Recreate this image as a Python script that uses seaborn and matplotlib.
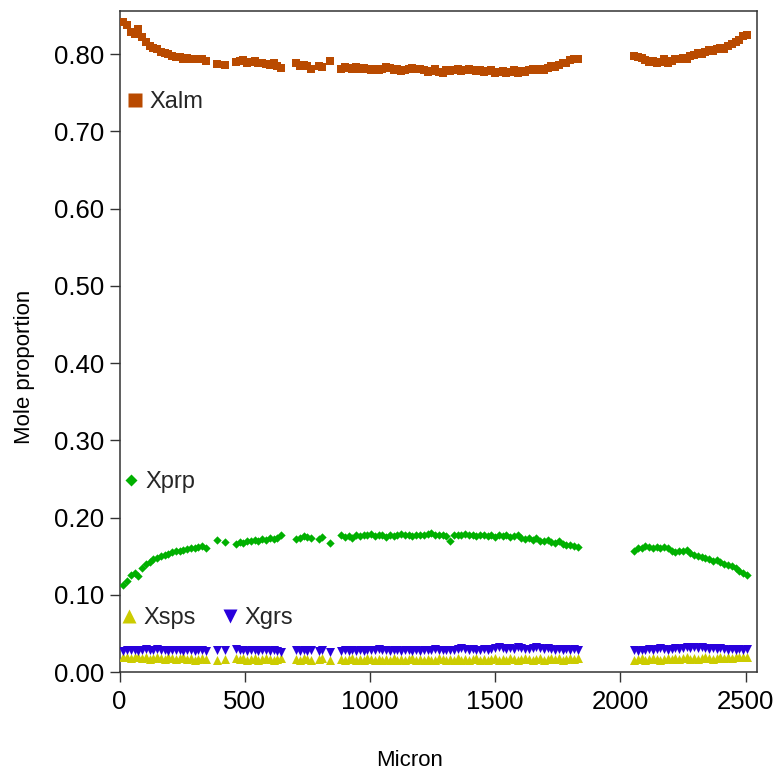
import matplotlib
matplotlib.use("Agg")
import matplotlib.pyplot as plt
from matplotlib.lines import Line2D
from matplotlib.legend import Legend
from matplotlib.ticker import FormatStrFormatter
import pandas as pd
import seaborn as sns

# Garnet rim-to-rim traverse: distance along profile (micron)
micron = [
    15, 30, 45, 60, 75, 90, 105, 120, 135, 150, 165, 180, 195, 210, 225, 240, 255, 270, 285, 300, 315, 330, 345,
    390, 420,
    465, 480, 495, 510, 525, 540, 555, 570, 585, 600, 615, 630, 645,
    705, 720, 735, 750, 765,
    795, 810,
    840,
    885, 900, 915, 930, 945, 960, 975, 990,
    1005, 1020, 1035, 1050, 1065, 1080, 1095,
    1110, 1125, 1140, 1155, 1170, 1185, 1200,
    1215, 1230, 1245, 1260, 1275, 1290, 1305,
    1320, 1335, 1350, 1365, 1380, 1395, 1410,
    1425, 1440, 1455, 1470, 1485, 1500, 1515,
    1530, 1545, 1560, 1575, 1590, 1605, 1620,
    1635, 1650, 1665, 1680, 1695, 1710, 1725,
    1740, 1755, 1770, 1785, 1800, 1815, 1830,
    2055, 2070, 2085, 2100, 2115, 2130, 2145, 2160, 2175, 2190,
    2205, 2220, 2235, 2250, 2265, 2280, 2295, 2310, 2325, 2340,
    2355, 2370, 2385, 2400, 2415, 2430, 2445, 2460, 2475, 2490, 2505,
]

# Almandine
x_alm = [
    0.841, 0.838, 0.829, 0.826, 0.833, 0.822, 0.815, 0.810, 0.808, 0.806, 0.803, 0.801, 0.800, 0.798, 0.796, 0.796,
    0.794, 0.795, 0.794, 0.793, 0.794, 0.793, 0.791,
    0.787, 0.786,
    0.790, 0.791, 0.792, 0.789, 0.790, 0.791, 0.788, 0.789, 0.787, 0.786, 0.788, 0.785, 0.782,
    0.788, 0.785, 0.786, 0.784, 0.781,
    0.785, 0.783,
    0.791,
    0.781, 0.783, 0.782, 0.780, 0.783, 0.781, 0.782, 0.780,
    0.779, 0.781, 0.779, 0.780, 0.783, 0.782, 0.779,
    0.780, 0.778, 0.779, 0.781, 0.782, 0.780, 0.780,
    0.779, 0.777, 0.778, 0.780, 0.777, 0.776, 0.779,
    0.778, 0.779, 0.780, 0.778, 0.779, 0.781, 0.779,
    0.778, 0.779, 0.777, 0.778, 0.779, 0.776, 0.777,
    0.778, 0.775, 0.777, 0.779, 0.776, 0.778, 0.777,
    0.779, 0.780, 0.779, 0.781, 0.779, 0.782, 0.784,
    0.783, 0.786, 0.789, 0.788, 0.792, 0.794, 0.793,
    0.798, 0.796, 0.795, 0.792, 0.790, 0.791, 0.789, 0.790, 0.793, 0.789,
    0.791, 0.794, 0.793, 0.795, 0.794, 0.797, 0.799, 0.801, 0.800, 0.803,
    0.805, 0.804, 0.806, 0.808, 0.807, 0.810, 0.813, 0.815, 0.818, 0.823, 0.824,
]

# Pyrope
x_prp = [
    0.112, 0.118, 0.125, 0.128, 0.124, 0.135, 0.140, 0.143, 0.146, 0.148, 0.150, 0.152, 0.153, 0.155, 0.156, 0.157,
    0.158, 0.159, 0.160, 0.161, 0.162, 0.163, 0.161,
    0.171, 0.168,
    0.166, 0.168, 0.167, 0.169, 0.170, 0.171, 0.170, 0.172, 0.171, 0.173, 0.172, 0.174, 0.178,
    0.172, 0.174, 0.176, 0.175, 0.173,
    0.172, 0.175,
    0.167,
    0.177, 0.175, 0.176, 0.174, 0.177, 0.176, 0.178, 0.177,
    0.179, 0.176, 0.178, 0.177, 0.175, 0.178, 0.176,
    0.178, 0.179, 0.177, 0.178, 0.176, 0.178, 0.177,
    0.178, 0.179, 0.180, 0.178, 0.177, 0.178, 0.176,
    0.169, 0.178, 0.177, 0.178, 0.179, 0.177, 0.178,
    0.176, 0.177, 0.178, 0.176, 0.177, 0.175, 0.177,
    0.176, 0.178, 0.175, 0.176, 0.177, 0.174, 0.172,
    0.173, 0.171, 0.173, 0.170, 0.169, 0.171, 0.168,
    0.167, 0.169, 0.166, 0.165, 0.164, 0.163, 0.162,
    0.157, 0.160, 0.161, 0.163, 0.162, 0.161, 0.162, 0.161, 0.162, 0.160,
    0.156, 0.155, 0.156, 0.157, 0.158, 0.154, 0.152, 0.150, 0.149, 0.148,
    0.146, 0.144, 0.145, 0.142, 0.140, 0.139, 0.137, 0.134, 0.131, 0.128, 0.126,
]

# Spessartine
x_sps = [
    0.019, 0.020, 0.018, 0.019, 0.020, 0.018, 0.019, 0.017, 0.018, 0.019, 0.018, 0.017, 0.019, 0.018, 0.017, 0.018,
    0.019, 0.017, 0.018, 0.016, 0.017, 0.018, 0.017,
    0.016, 0.017,
    0.018, 0.017, 0.018, 0.016, 0.017, 0.018, 0.016, 0.017, 0.018, 0.017, 0.016, 0.017, 0.018,
    0.017, 0.016, 0.018, 0.017, 0.016,
    0.017, 0.018,
    0.016,
    0.017, 0.016, 0.017, 0.018, 0.016, 0.017, 0.016, 0.018,
    0.017, 0.016, 0.017, 0.015, 0.017, 0.016, 0.018,
    0.016, 0.017, 0.016, 0.017, 0.018, 0.016, 0.017,
    0.016, 0.017, 0.015, 0.016, 0.018, 0.017, 0.016,
    0.017, 0.016, 0.018, 0.016, 0.017, 0.016, 0.017,
    0.018, 0.016, 0.017, 0.016, 0.017, 0.018, 0.016,
    0.017, 0.016, 0.018, 0.017, 0.016, 0.017, 0.018,
    0.017, 0.016, 0.017, 0.018, 0.016, 0.017, 0.018,
    0.017, 0.018, 0.016, 0.017, 0.018, 0.017, 0.018,
    0.016, 0.017, 0.018, 0.016, 0.017, 0.018, 0.017, 0.016, 0.017, 0.018,
    0.017, 0.018, 0.017, 0.018, 0.019, 0.017, 0.018, 0.017, 0.018, 0.019,
    0.018, 0.017, 0.018, 0.019, 0.018, 0.019, 0.018, 0.019, 0.020, 0.019, 0.020,
]

# Grossular
x_grs = [
    0.027, 0.028, 0.029, 0.028, 0.027, 0.029, 0.030, 0.028, 0.029, 0.030, 0.028, 0.029, 0.027, 0.028, 0.029, 0.028,
    0.027, 0.029, 0.028, 0.027, 0.028, 0.029, 0.027,
    0.029, 0.028,
    0.030, 0.028, 0.029, 0.027, 0.028, 0.029, 0.027, 0.028, 0.029, 0.027, 0.028, 0.027, 0.026,
    0.028, 0.027, 0.029, 0.027, 0.028,
    0.027, 0.028,
    0.026,
    0.027, 0.028, 0.027, 0.028, 0.027, 0.028, 0.027, 0.028,
    0.028, 0.029, 0.030, 0.029, 0.028, 0.027, 0.028,
    0.028, 0.027, 0.028, 0.028, 0.027, 0.028, 0.027,
    0.028, 0.028, 0.029, 0.030, 0.028, 0.029, 0.028,
    0.029, 0.028, 0.030, 0.031, 0.030, 0.029, 0.030,
    0.029, 0.028, 0.030, 0.029, 0.030, 0.031, 0.032,
    0.031, 0.030, 0.031, 0.030, 0.032, 0.031, 0.030,
    0.030, 0.031, 0.032, 0.031, 0.030, 0.031, 0.030,
    0.029, 0.030, 0.029, 0.030, 0.029, 0.030, 0.029,
    0.028, 0.027, 0.028, 0.029, 0.030, 0.029, 0.030, 0.031, 0.030, 0.029,
    0.030, 0.031, 0.030, 0.031, 0.032, 0.031, 0.032, 0.031, 0.032, 0.031,
    0.030, 0.031, 0.030, 0.031, 0.030, 0.029, 0.030, 0.029, 0.030, 0.029, 0.030,
]

components = ["Xalm", "Xprp", "Xsps", "Xgrs"]
colors = {"Xalm": "#B94A00", "Xprp": "#00B000", "Xsps": "#CCCC00", "Xgrs": "#2800DC"}
markers = {"Xalm": "s", "Xprp": "D", "Xsps": "^", "Xgrs": "v"}
point_sizes = {"Xalm": 36, "Xprp": 18, "Xsps": 42, "Xgrs": 42}
key_sizes = {"Xalm": 10, "Xprp": 6.2, "Xsps": 9.4, "Xgrs": 9.4}
key_pos = {"Xalm": (0.0132, 0.862), "Xprp": (0.0069, 0.287),
           "Xsps": (0.0038, 0.082), "Xgrs": (0.162, 0.082)}

wide = pd.DataFrame({"Micron": micron, "Xalm": x_alm, "Xprp": x_prp,
                     "Xsps": x_sps, "Xgrs": x_grs})
df = wide.melt(id_vars="Micron", var_name="component", value_name="Mole proportion")

sns.set_theme(style="ticks")
plt.rcParams["font.family"] = ["Liberation Sans", "DejaVu Sans"]

fig = plt.figure(figsize=(7.76, 7.74), dpi=100)
ax = fig.add_axes([119.5 / 776, 1 - 672 / 774, (757.3 - 119.5) / 776, (672 - 11) / 774])

for comp in components:
    sns.scatterplot(data=df[df["component"] == comp], x="Micron", y="Mole proportion",
                    color=colors[comp], marker=markers[comp], s=point_sizes[comp],
                    linewidth=0, legend=False, ax=ax, zorder=3)

ax.set_xlim(0, 2547)
ax.set_ylim(0, 0.8557)
ax.set_xticks([0, 500, 1000, 1500, 2000, 2500])
ax.set_yticks([0.0, 0.1, 0.2, 0.3, 0.4, 0.5, 0.6, 0.7, 0.8])
ax.yaxis.set_major_formatter(FormatStrFormatter("%.2f"))

spine_color = "#333333"
for side in ["left", "right", "top", "bottom"]:
    ax.spines[side].set_visible(True)
    ax.spines[side].set_color(spine_color)
    ax.spines[side].set_linewidth(1.1)
ax.tick_params(axis="both", direction="out", length=7, width=1.0, color=spine_color,
               labelsize=18.5, labelcolor="black", pad=4)
ax.tick_params(axis="x", pad=6)

ax.set_xlabel("Micron", fontsize=16, color="black", va="top", ha="center")
ax.set_ylabel("Mole proportion", fontsize=16, color="black")
ax.xaxis.set_label_coords(0.455, -0.118)
ax.yaxis.set_label_coords(-0.133, 0.461)

# Component keys placed next to their profiles
for comp in components:
    handle = Line2D([], [], linestyle="none", marker=markers[comp], color=colors[comp],
                    markeredgecolor="none", markersize=key_sizes[comp])
    key = Legend(ax, [handle], [comp], loc="center left",
                 bbox_to_anchor=key_pos[comp], frameon=False, borderpad=0,
                 borderaxespad=0, handlelength=0.6, handletextpad=0.33, fontsize=17)
    ax.add_artist(key)

fig.savefig("out.png", dpi=100)
